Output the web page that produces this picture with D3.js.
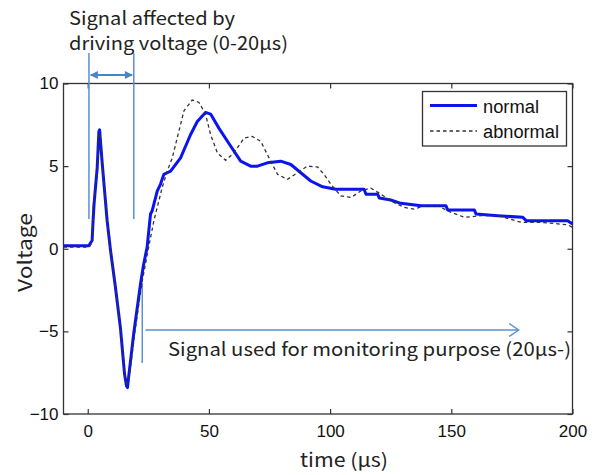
<!DOCTYPE html>
<html>
<head>
<meta charset="utf-8">
<script src="https://cdn.jsdelivr.net/npm/d3@7/dist/d3.min.js"></script>
<style>
  html, body { margin: 0; padding: 0; background: #fff; }
  svg { display: block; }
</style>
</head>
<body>
<svg id="chart" width="599" height="475"></svg>
<script>
// ---------- data ----------
const xTicks = [0, 50, 100, 150, 200];
const yTicks = [-10, -5, 0, 5, 10];
const seriesNames = ["normal", "abnormal"];

const normalT = [-10, 0.4, 1.8, 2.2, 2.6, 3.9, 4.6, 4.9, 5.9, 7.3, 8, 9.4, 11.4, 13.5, 15.2, 16, 16.4, 17, 19, 21.8, 23, 24.5, 25.9, 26.6, 28.7, 30, 31.4, 32.8, 34.2, 38.3, 42.4, 45.2, 48.6, 50.7, 54.1, 59, 63.1, 67.2, 70, 74.1, 79.6, 83.8, 87.9, 92, 96.9, 102.3, 114, 114.8, 119.6, 120.3, 125, 129.2, 137.5, 147.8, 148.5, 159.5, 160.2, 169.2, 179.5, 180.9, 198, 200];
const normalV = [0.18, 0.18, 0.5, 1.7, 2.7, 4.9, 7.1, 7.2, 5.3, 2.9, 1.7, -0.1, -2.3, -4.8, -7.6, -8.3, -8.4, -7.6, -5.1, -2.1, -1.0, 0.1, 2.1, 2.3, 3.5, 3.9, 4.5, 4.6, 4.7, 5.5, 6.9, 7.7, 8.25, 8.15, 7.3, 6.2, 5.3, 5.0, 5.0, 5.2, 5.3, 5.1, 4.6, 4.1, 3.75, 3.6, 3.6, 3.3, 3.3, 3.07, 2.95, 2.75, 2.6, 2.6, 2.35, 2.35, 2.1, 2.0, 1.9, 1.7, 1.7, 1.5];

const abnormalT = [-10, 0.6, 1.9, 2.3, 4.0, 4.7, 5.0, 6.0, 8.1, 9.5, 11.5, 13.6, 15.3, 16.2, 17.3, 19.4, 22.3, 25, 27.3, 30.7, 32.8, 34.9, 36.9, 39.7, 43.1, 45.9, 48.6, 50.7, 53.5, 56.9, 60.3, 64.5, 67.9, 71.4, 74.1, 78.3, 82.4, 86.5, 90.6, 94.8, 97.5, 100.3, 104.4, 108.6, 112.7, 116.8, 121, 125, 130.6, 134.7, 138.8, 144.4, 149.9, 155.4, 162.3, 169.2, 178.8, 187, 198, 200];
const abnormalV = [0.1, 0.1, 0.4, 2.6, 4.8, 6.9, 7.0, 5.2, 1.6, -0.2, -2.4, -4.9, -7.7, -8.3, -7.6, -5.1, -2.1, 0.0, 1.7, 3.7, 4.7, 5.5, 6.7, 8.35, 9.0, 8.85, 8.15, 6.9, 5.8, 5.35, 5.8, 6.7, 6.8, 6.5, 5.7, 4.5, 4.2, 4.6, 5.0, 4.95, 4.5, 3.9, 3.2, 3.1, 3.5, 3.67, 3.3, 2.9, 2.5, 2.4, 2.6, 2.6, 2.2, 1.9, 2.0, 2.0, 1.6, 1.6, 1.45, 1.3];

const annotTop = ["Signal affected by", "driving voltage (0-20\u03bcs)"];
const annotBottom = "Signal used for monitoring purpose (20\u03bcs-)";
const xLabel = "time (\u03bcs)";
const yLabel = "Voltage";

// ---------- layout ----------
const svg = d3.select("#chart");
const L = 63.5, R = 572.5, T = 83.5, B = 414;
const x = d3.scaleLinear().domain([-10, 200]).range([L, R]);
const y = d3.scaleLinear().domain([-10, 10]).range([B, T]);

const axisColor = "#333";
const tickFont = "'Liberation Sans', Arial, sans-serif";
const annFont = "'Noto Sans CJK KR', 'Noto Sans', sans-serif";
const annBlue = "#5a8fd2";

// frame
svg.append("rect").attr("x", L).attr("y", T).attr("width", R - L).attr("height", B - T)
  .attr("fill", "none").attr("stroke", axisColor).attr("stroke-width", 1.3);

// axes with inward ticks
const gBottom = svg.append("g").attr("transform", `translate(0,${B})`)
  .call(d3.axisBottom(x).tickValues(xTicks).tickSizeInner(-5).tickSizeOuter(0).tickPadding(10.5));
const gTop = svg.append("g").attr("transform", `translate(0,${T})`)
  .call(d3.axisTop(x).tickValues(xTicks).tickSizeInner(-5).tickSizeOuter(0).tickFormat(""));
const gLeft = svg.append("g").attr("transform", `translate(${L},0)`)
  .call(d3.axisLeft(y).tickValues(yTicks).tickSizeInner(-5).tickSizeOuter(0).tickPadding(5));
const gRight = svg.append("g").attr("transform", `translate(${R},0)`)
  .call(d3.axisRight(y).tickValues(yTicks).tickSizeInner(-5).tickSizeOuter(0).tickFormat(""));
[gBottom, gTop, gLeft, gRight].forEach(g => {
  g.select(".domain").remove();
  g.selectAll("line").attr("stroke", axisColor).attr("stroke-width", 1.2);
  g.selectAll("text").attr("font-family", tickFont).attr("font-size", 17).attr("fill", "#111");
});

// annotations (top)
const topLens = [166, 219];
svg.selectAll(".annTop").data(annotTop).enter().append("text")
  .attr("x", 69).attr("y", (d, i) => 25 + i * 24.5)
  .attr("font-family", annFont).attr("font-size", 18.5).attr("fill", "#222")
  .attr("textLength", (d, i) => topLens[i]).attr("lengthAdjust", "spacingAndGlyphs")
  .text(d => d);

const vline = (t, y1, y2) => svg.append("line")
  .attr("x1", x(t)).attr("x2", x(t)).attr("y1", y1).attr("y2", y2)
  .attr("stroke", annBlue).attr("stroke-width", 1.5);
vline(0.5, 53, 219);
vline(19, 53, 219);

// double arrow
const defs = svg.append("defs");
defs.append("marker").attr("id", "tri").attr("viewBox", "0 0 10 10").attr("refX", 9).attr("refY", 5)
  .attr("markerWidth", 10).attr("markerHeight", 8).attr("markerUnits", "userSpaceOnUse")
  .attr("orient", "auto-start-reverse")
  .append("path").attr("d", "M0,0 L10,5 L0,10 Z").attr("fill", "#4a84c4");
defs.append("marker").attr("id", "chev").attr("viewBox", "0 0 10 14").attr("refX", 9.5).attr("refY", 7)
  .attr("markerWidth", 11).attr("markerHeight", 14).attr("markerUnits", "userSpaceOnUse")
  .attr("orient", "auto")
  .append("path").attr("d", "M0,0.5 L9.5,7 L0,13.5").attr("fill", "none").attr("stroke", annBlue).attr("stroke-width", 1.4);

svg.append("line").attr("x1", x(1.2)).attr("x2", x(18.3)).attr("y1", 75).attr("y2", 75)
  .attr("stroke", "#4a84c4").attr("stroke-width", 1.8)
  .attr("marker-start", "url(#tri)").attr("marker-end", "url(#tri)");

// bottom annotation
vline(22.5, 283, 363);
svg.append("line").attr("x1", x(23.8)).attr("x2", x(177.8)).attr("y1", 330).attr("y2", 330)
  .attr("stroke", annBlue).attr("stroke-width", 1.4).attr("marker-end", "url(#chev)");
svg.append("text").attr("x", 168).attr("y", 356)
  .attr("font-family", annFont).attr("font-size", 18.5).attr("fill", "#222")
  .attr("textLength", 403).attr("lengthAdjust", "spacingAndGlyphs")
  .text(annotBottom);

// series
const line = d3.line().x(d => x(d[0])).y(d => y(d[1]));
const normalData = normalT.map((t, i) => [t, normalV[i]]);
const abnormalData = abnormalT.map((t, i) => [t, abnormalV[i]]);

svg.append("path").datum(normalData).attr("d", line)
  .attr("fill", "none").attr("stroke", "#0a14f0").attr("stroke-width", 3).attr("stroke-linejoin", "round");
svg.append("path").datum(abnormalData).attr("d", line)
  .attr("fill", "none").attr("stroke", "#333").attr("stroke-width", 1.3).attr("stroke-dasharray", "3.5,3");

// legend
const lg = svg.append("g");
lg.append("rect").attr("x", 422.5).attr("y", 91.5).attr("width", 144).attr("height", 54.5)
  .attr("fill", "#fff").attr("stroke", "#333").attr("stroke-width", 1.3);
const lgStyles = [{ stroke: "#0a14f0", w: 3, dash: null }, { stroke: "#333", w: 1.3, dash: "3.5,3" }];
const lgLens = [56, 76];
seriesNames.forEach((name, i) => {
  const yy = 105.5 + i * 25.5;
  lg.append("line").attr("x1", 430).attr("x2", 477).attr("y1", yy).attr("y2", yy)
    .attr("stroke", lgStyles[i].stroke).attr("stroke-width", lgStyles[i].w)
    .attr("stroke-dasharray", lgStyles[i].dash);
  lg.append("text").attr("x", 483).attr("y", yy + 7)
    .attr("font-family", tickFont).attr("font-size", 18).attr("fill", "#111")
    .attr("textLength", lgLens[i]).attr("lengthAdjust", "spacingAndGlyphs")
    .text(name);
});

// axis labels
svg.append("text").attr("x", 300).attr("y", 467)
  .attr("font-family", annFont).attr("font-size", 19).attr("fill", "#222")
  .attr("textLength", 88).attr("lengthAdjust", "spacingAndGlyphs").text(xLabel);
svg.append("text").attr("transform", "translate(32,292) rotate(-90)")
  .attr("font-family", annFont).attr("font-size", 19).attr("fill", "#222")
  .attr("textLength", 79).attr("lengthAdjust", "spacingAndGlyphs").text(yLabel);
</script>
</body>
</html>
